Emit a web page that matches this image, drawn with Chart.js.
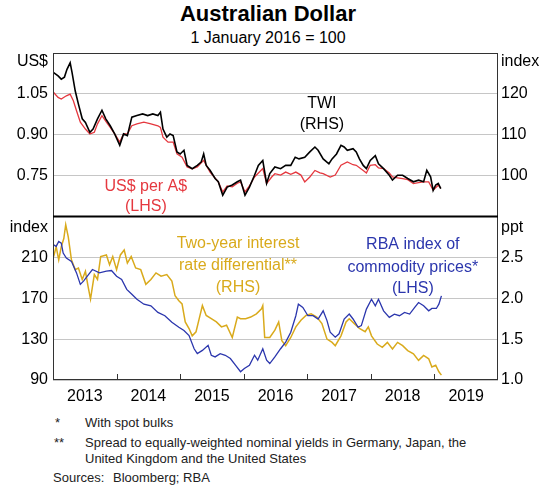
<!DOCTYPE html>
<html lang="en">
<head>
<meta charset="UTF-8">
<title>Australian Dollar</title>
<script src="https://cdn.jsdelivr.net/npm/chart.js"></script>
<style>
  body { margin: 0; background: #fff; font-family: 'Liberation Sans', Arial, sans-serif; color: #000; }
  #wrap { position: relative; width: 540px; height: 492px; overflow: hidden; }
  #chart { position: absolute; left: 0; top: 0; }
  .title { position: absolute; left: 45px; width: 446px; text-align: center; white-space: nowrap; }
  #t1 { top: 1px; font-size: 22px; font-weight: bold; line-height: 26px; }
  #t2 { top: 29px; font-size: 16px; line-height: 18px; }
  .note { position: absolute; font-size: 13px; line-height: 16px; color: #222; white-space: nowrap; }
</style>
</head>
<body>
<div id="wrap">
  <div id="t1" class="title">Australian Dollar</div>
  <div id="t2" class="title">1 January 2016 = 100</div>
  <canvas id="chart" width="540" height="410"></canvas>
  <div class="note" style="left:55px;top:415px">*</div>
  <div class="note" style="left:85px;top:415px">With spot bulks</div>
  <div class="note" style="left:54px;top:435px">**</div>
  <div class="note" style="left:85px;top:435px">Spread to equally-weighted nominal yields in Germany, Japan, the<br>United Kingdom and the United States</div>
  <div class="note" style="left:53px;top:470px">Sources:</div>
  <div class="note" style="left:113px;top:470px">Bloomberg; RBA</div>
</div>

<script>
// x axis: decimal years, labels sit in the middle of each year
const years = ['2013', '2014', '2015', '2016', '2017', '2018', '2019'];

// top panel - trade-weighted index (RHS)
const twiDates = [2013.01, 2013.08, 2013.13, 2013.18, 2013.22, 2013.27, 2013.30, 2013.35, 2013.40, 2013.46,
  2013.51, 2013.58, 2013.63, 2013.70, 2013.77, 2013.83, 2013.90, 2013.97, 2014.05, 2014.11,
  2014.17, 2014.24, 2014.32, 2014.41, 2014.49, 2014.57, 2014.65, 2014.69, 2014.73, 2014.79,
  2014.84, 2014.89, 2014.95, 2015.00, 2015.06, 2015.11, 2015.19, 2015.27, 2015.33, 2015.37,
  2015.41, 2015.47, 2015.55, 2015.60, 2015.67, 2015.74, 2015.82, 2015.90, 2015.95, 2016.02,
  2016.09, 2016.17, 2016.23, 2016.30, 2016.36, 2016.41, 2016.49, 2016.58, 2016.66, 2016.74,
  2016.81, 2016.87, 2016.96, 2017.04, 2017.12, 2017.17, 2017.25, 2017.34, 2017.39, 2017.46,
  2017.53, 2017.58, 2017.63, 2017.72, 2017.77, 2017.82, 2017.88, 2017.93, 2017.99, 2018.07,
  2018.12, 2018.20, 2018.29, 2018.34, 2018.42, 2018.50, 2018.58, 2018.67, 2018.75, 2018.83,
  2018.88, 2018.94, 2018.98, 2019.02, 2019.06, 2019.10];
const twiIndex = [125.2, 124.4, 123.6, 124.1, 126.0, 127.6, 125.2, 120.7, 117.5, 113.9,
  113.0, 110.6, 111.4, 113.9, 116.0, 113.9, 112.2, 110.2, 107.4, 110.2,
  109.8, 114.3, 114.7, 115.1, 114.7, 115.1, 114.7, 115.5, 111.4, 109.4,
  110.2, 109.8, 105.8, 105.3, 106.2, 102.5, 101.7, 102.5, 103.3, 105.3,
  102.5, 101.3, 99.3, 98.5, 95.2, 97.2, 97.7, 98.5, 98.9, 95.2,
  97.2, 100.1, 102.5, 103.7, 98.1, 100.5, 102.1, 101.7, 102.5, 102.5,
  104.5, 104.1, 104.5, 105.8, 107.0, 106.2, 104.1, 102.9, 104.1, 105.3,
  107.4, 107.0, 106.2, 106.6, 105.8, 104.1, 102.5, 101.7, 103.7, 104.9,
  102.9, 101.7, 100.1, 98.9, 100.1, 100.1, 99.3, 98.5, 98.9, 98.5,
  101.3, 99.7, 96.4, 97.7, 98.1, 96.8];

// top panel - US$ per A$ (LHS)
const usdDates = [2013.01, 2013.08, 2013.13, 2013.21, 2013.27, 2013.32, 2013.37, 2013.43, 2013.51, 2013.58,
  2013.65, 2013.70, 2013.77, 2013.84, 2013.90, 2013.97, 2014.05, 2014.11, 2014.17, 2014.24,
  2014.32, 2014.43, 2014.54, 2014.65, 2014.69, 2014.73, 2014.81, 2014.89, 2014.95, 2015.03,
  2015.11, 2015.19, 2015.27, 2015.37, 2015.47, 2015.60, 2015.67, 2015.74, 2015.82, 2015.90,
  2015.95, 2016.02, 2016.09, 2016.17, 2016.30, 2016.36, 2016.44, 2016.49, 2016.58, 2016.66,
  2016.74, 2016.82, 2016.90, 2016.96, 2017.04, 2017.12, 2017.20, 2017.25, 2017.36, 2017.44,
  2017.53, 2017.63, 2017.72, 2017.77, 2017.88, 2017.93, 2017.99, 2018.07, 2018.12, 2018.20,
  2018.29, 2018.34, 2018.42, 2018.50, 2018.58, 2018.67, 2018.75, 2018.83, 2018.91, 2018.98,
  2019.06, 2019.10];
const usdPerAud = [1.055, 1.037, 1.031, 1.043, 1.049, 1.025, 0.988, 0.946, 0.921, 0.903,
  0.909, 0.940, 0.970, 0.946, 0.927, 0.903, 0.873, 0.903, 0.903, 0.933,
  0.940, 0.946, 0.940, 0.933, 0.927, 0.891, 0.873, 0.873, 0.830, 0.818,
  0.782, 0.775, 0.782, 0.806, 0.763, 0.727, 0.690, 0.712, 0.709, 0.722,
  0.727, 0.690, 0.712, 0.745, 0.776, 0.721, 0.745, 0.757, 0.752, 0.763,
  0.755, 0.763, 0.752, 0.727, 0.745, 0.769, 0.760, 0.757, 0.745, 0.752,
  0.788, 0.800, 0.790, 0.788, 0.769, 0.760, 0.788, 0.790, 0.778, 0.776,
  0.760, 0.745, 0.742, 0.739, 0.735, 0.721, 0.724, 0.727, 0.727, 0.697,
  0.715, 0.703];

// bottom panel - RBA index of commodity prices (LHS)
const commodDates = [2013.01, 2013.05, 2013.09, 2013.13, 2013.16, 2013.21, 2013.29, 2013.37, 2013.43, 2013.48,
  2013.54, 2013.62, 2013.73, 2013.84, 2013.92, 2014.00, 2014.08, 2014.16, 2014.24, 2014.32,
  2014.43, 2014.54, 2014.65, 2014.76, 2014.87, 2014.98, 2015.06, 2015.14, 2015.22, 2015.27,
  2015.35, 2015.44, 2015.49, 2015.55, 2015.63, 2015.71, 2015.79, 2015.87, 2015.95, 2016.01,
  2016.09, 2016.17, 2016.22, 2016.30, 2016.36, 2016.41, 2016.49, 2016.58, 2016.66, 2016.74,
  2016.82, 2016.86, 2016.93, 2017.01, 2017.09, 2017.17, 2017.25, 2017.31, 2017.36, 2017.44,
  2017.50, 2017.58, 2017.66, 2017.72, 2017.80, 2017.85, 2017.93, 2018.01, 2018.07, 2018.12,
  2018.20, 2018.29, 2018.37, 2018.45, 2018.53, 2018.61, 2018.69, 2018.75, 2018.83, 2018.91,
  2018.96, 2019.03, 2019.07, 2019.11];
const commodIndex = [222.3, 220.6, 225.5, 223.9, 214.2, 209.4, 206.1, 194.8, 183.6, 186.8,
  191.6, 198.1, 194.8, 196.5, 197.1, 191.6, 188.4, 178.7, 173.9, 169.0,
  164.2, 162.6, 156.1, 152.9, 146.5, 141.6, 138.4, 133.5, 120.6, 115.8,
  119.0, 123.9, 114.2, 112.6, 115.8, 114.2, 111.0, 104.5, 98.1, 101.3,
  104.5, 114.2, 109.4, 120.6, 109.4, 106.1, 112.6, 120.6, 127.1, 136.8,
  152.9, 164.2, 161.0, 152.9, 152.9, 149.7, 157.7, 148.1, 136.8, 131.9,
  135.2, 149.7, 154.5, 149.7, 141.6, 143.2, 159.4, 169.0, 162.6, 169.0,
  157.7, 151.3, 154.5, 152.9, 156.1, 154.5, 161.0, 165.8, 162.6, 157.7,
  160.0, 160.0, 164.2, 172.3];

// bottom panel - two-year interest rate differential, ppt (RHS)
const diffDates = [2013.01, 2013.05, 2013.09, 2013.13, 2013.17, 2013.20, 2013.24, 2013.29, 2013.35, 2013.40,
  2013.46, 2013.51, 2013.55, 2013.59, 2013.65, 2013.70, 2013.75, 2013.84, 2013.89, 2013.94,
  2014.00, 2014.06, 2014.12, 2014.17, 2014.23, 2014.30, 2014.38, 2014.46, 2014.54, 2014.62,
  2014.70, 2014.79, 2014.87, 2014.92, 2014.98, 2015.03, 2015.08, 2015.14, 2015.19, 2015.25,
  2015.30, 2015.35, 2015.41, 2015.49, 2015.57, 2015.65, 2015.73, 2015.82, 2015.90, 2015.95,
  2016.03, 2016.11, 2016.20, 2016.28, 2016.30, 2016.33, 2016.41, 2016.49, 2016.55, 2016.60,
  2016.66, 2016.74, 2016.82, 2016.90, 2016.98, 2017.06, 2017.15, 2017.23, 2017.31, 2017.39,
  2017.44, 2017.53, 2017.61, 2017.66, 2017.74, 2017.82, 2017.91, 2017.96, 2018.01, 2018.10,
  2018.18, 2018.26, 2018.34, 2018.42, 2018.50, 2018.58, 2018.67, 2018.75, 2018.83, 2018.91,
  2018.96, 2019.02, 2019.07, 2019.11];
const rateDiff = [2.51, 2.63, 2.47, 2.63, 2.73, 2.90, 2.75, 2.47, 2.35, 2.37,
  2.23, 2.33, 2.15, 1.99, 2.29, 2.23, 2.51, 2.53, 2.41, 2.51,
  2.35, 2.53, 2.59, 2.43, 2.51, 2.37, 2.35, 2.17, 2.23, 2.31,
  2.27, 2.29, 2.21, 2.03, 1.97, 1.93, 1.71, 1.63, 1.54, 1.59,
  1.75, 1.91, 1.79, 1.75, 1.71, 1.65, 1.67, 1.52, 1.77, 1.75,
  1.75, 1.77, 1.81, 1.87, 1.91, 1.52, 1.52, 1.61, 1.71, 1.48,
  1.42, 1.52, 1.65, 1.73, 1.79, 1.81, 1.77, 1.69, 1.50, 1.46,
  1.42, 1.54, 1.71, 1.75, 1.69, 1.63, 1.59, 1.65, 1.54, 1.44,
  1.40, 1.46, 1.38, 1.46, 1.42, 1.36, 1.32, 1.24, 1.30, 1.26,
  1.16, 1.18, 1.10, 1.06];

const FONT = "'Liberation Sans', Arial, sans-serif";
const RED = '#e5383f', BLUE = '#2b36ad', GOLD = '#d9aa1c';

// in-panel series labels, placed in data units
const seriesLabels = [
  { lines: ['TWI', '(RHS)'], x: 2017.23, y: [1.015, 0.936], axis: 'yTopL', color: '#000' },
  { lines: ['US$ per A$', '(LHS)'], x: 2014.46, y: [0.708, 0.635], axis: 'yTopL', color: RED },
  { lines: ['Two-year interest', 'rate differential**', '(RHS)'], x: 2015.91, y: [223.6, 201.6, 180.5], axis: 'yBotL', color: GOLD },
  { lines: ['RBA index of', 'commodity prices*', '(LHS)'], x: 2018.66, y: [222.1, 200.1, 179.1], axis: 'yBotL', color: BLUE }
];

const pts = (xs, ys) => xs.map((x, i) => ({ x: x, y: ys[i] }));
const fixW = w => s => { s.width = w; };
const gridOpts = { color: '#c6c6c6', drawTicks: false };

const framePlugin = {
  id: 'frame',
  afterDatasetsDraw(chart) {
    const { ctx, chartArea: a, scales } = chart;
    const line = (x1, y1, x2, y2) => { ctx.beginPath(); ctx.moveTo(x1, y1); ctx.lineTo(x2, y2); ctx.stroke(); };
    ctx.save();
    ctx.strokeStyle = '#333';
    ctx.lineWidth = 1;
    ctx.strokeRect(a.left + 0.5, a.top + 0.5, a.right - a.left - 1, a.bottom - a.top - 1);
    years.slice(1).forEach(y => {
      const px = Math.round(scales.x.getPixelForValue(+y)) + 0.5;
      line(px, a.bottom, px, a.bottom - 6);
    });
    const yd = scales.yTopL.bottom;
    ctx.strokeStyle = '#000';
    ctx.lineWidth = 2;
    line(a.left, yd, a.right, yd);

    ctx.font = '16px ' + FONT;
    ctx.fillStyle = '#000';
    ctx.textBaseline = 'alphabetic';
    ctx.textAlign = 'right';
    ctx.fillText('US$', a.left - 5, a.top + 12.5);
    ctx.fillText('index', a.left - 5, yd + 15);
    ctx.textAlign = 'left';
    ctx.fillText('index', a.right + 3, a.top + 12.5);
    ctx.fillText('ppt', a.right + 3, yd + 15);

    ctx.textAlign = 'center';
    ctx.textBaseline = 'middle';
    seriesLabels.forEach(l => {
      ctx.fillStyle = l.color;
      const px = scales.x.getPixelForValue(l.x);
      l.lines.forEach((t, i) => ctx.fillText(t, px, scales[l.axis].getPixelForValue(l.y[i])));
    });
    ctx.restore();
  }
};

Chart.defaults.font.family = FONT;
Chart.defaults.font.size = 16;
Chart.defaults.color = '#000';

new Chart(document.getElementById('chart'), {
  type: 'line',
  data: {
    datasets: [
      { label: 'TWI', data: pts(twiDates, twiIndex), yAxisID: 'yTopR', borderColor: '#000', borderWidth: 1.6 },
      { label: 'US$ per A$', data: pts(usdDates, usdPerAud), yAxisID: 'yTopL', borderColor: RED, borderWidth: 1.3 },
      { label: 'RBA index of commodity prices', data: pts(commodDates, commodIndex), yAxisID: 'yBotL', borderColor: BLUE, borderWidth: 1.3 },
      { label: 'Two-year interest rate differential', data: pts(diffDates, rateDiff), yAxisID: 'yBotR', borderColor: GOLD, borderWidth: 1.5 }
    ]
  },
  options: {
    responsive: false,
    animation: false,
    events: [],
    elements: { point: { radius: 0 }, line: { tension: 0 } },
    layout: { padding: { top: 53, left: 0, right: 0, bottom: 0 } },
    plugins: { legend: { display: false }, tooltip: { enabled: false } },
    scales: {
      x: {
        type: 'linear', position: 'bottom', min: 2013, max: 2020,
        grid: { display: false, drawTicks: false }, border: { display: false },
        afterBuildTicks: s => { s.ticks = years.map(y => ({ value: +y + 0.5 })); },
        ticks: { callback: v => String(Math.floor(v)), padding: 7, maxRotation: 0, autoSkip: false },
        afterFit: s => { s.height = 30; }
      },
      yTopL: {
        position: 'left', stack: 'L', stackWeight: 1, weight: 2, min: 0.6, max: 1.2,
        ticks: { stepSize: 0.15, padding: 5, callback: v => (v > 0.61 && v < 1.19) ? v.toFixed(2) : '' },
        grid: gridOpts, border: { display: false }, afterFit: fixW(53)
      },
      yBotL: {
        position: 'left', stack: 'L', stackWeight: 1, weight: 1, min: 90, max: 250,
        ticks: { stepSize: 40, padding: 5, callback: v => v < 249 ? String(v) : '' },
        grid: gridOpts, border: { display: false }, afterFit: fixW(53)
      },
      yTopR: {
        position: 'right', stack: 'R', stackWeight: 1, weight: 1, min: 90, max: 130,
        ticks: { stepSize: 10, padding: 3, callback: v => (v > 90 && v < 130) ? String(v) : '' },
        grid: { drawOnChartArea: false, drawTicks: false }, border: { display: false }, afterFit: fixW(42)
      },
      yBotR: {
        position: 'right', stack: 'R', stackWeight: 1, weight: 2, min: 1, max: 3,
        ticks: { stepSize: 0.5, padding: 3, callback: v => v < 2.9 ? v.toFixed(1) : '' },
        grid: { drawOnChartArea: false, drawTicks: false }, border: { display: false }, afterFit: fixW(42)
      }
    }
  },
  plugins: [framePlugin]
});
</script>
</body>
</html>
